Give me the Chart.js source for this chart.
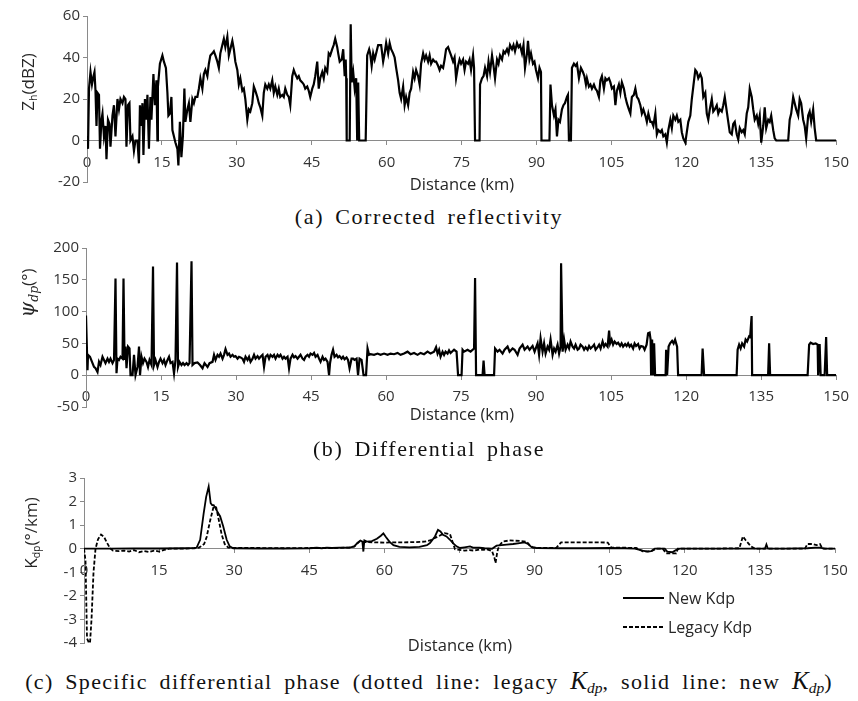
<!DOCTYPE html>
<html lang="en">
<head>
<meta charset="utf-8">
<title>Zh / Psi dp / Kdp</title>
<script src="https://cdn.jsdelivr.net/npm/chart.js@4.4.1/dist/chart.umd.min.js"></script>
<style>
    body { margin: 0; width: 858px; height: 701px; position: relative; overflow: hidden; background: #fff; font-family: 'Open Sans', sans-serif; color: #262626; }
    canvas { position: absolute; left: 0; }
    .titreAxeY { position: absolute; transform: translate(-50%, -50%) rotate(-90deg); white-space: nowrap; font-size: 17px; line-height: 1; }
    .titreAxeX { position: absolute; transform: translate(-50%, -50%); white-space: nowrap; font-size: 16.5px; line-height: 1; }
    sub { font-size: 0.62em; vertical-align: -0.3em; line-height: 0; }
    .grec { font-family: 'DejaVu Serif', serif; font-style: italic; font-size: 20px; }
    .legende { position: absolute; left: 623px; transform: translateY(-50%); display: flex; align-items: center; font-size: 16px; line-height: 1; white-space: nowrap; }
    .trait { display: inline-block; width: 41px; height: 2px; background: #000; margin-right: 4px; }
    .trait.pointille { background: repeating-linear-gradient(90deg, #000 0 4px, transparent 4px 6px); }
    .caption { position: absolute; left: 0; width: 858px; text-align: center; transform: translateY(-50%); font-family: 'Liberation Serif', serif; font-size: 22px; letter-spacing: 1.6px; word-spacing: 4px; line-height: 1; color: #111; white-space: nowrap; }
    .math { font-style: italic; font-size: 25px; letter-spacing: 0; }
</style>
</head>
<body>

<canvas id="graphZh" width="858" height="200" style="top:0px"></canvas>
<canvas id="graphPsi" width="858" height="195" style="top:230px"></canvas>
<canvas id="graphKdp" width="858" height="200" style="top:460px"></canvas>

<div class="titreAxeY" style="left:27px; top:82px">Z<sub>h</sub>(dBZ)</div>
<div class="titreAxeX" style="left:462px; top:184px">Distance (km)</div>
<div class="caption" style="top:217px">(a) Corrected reflectivity</div>

<div class="titreAxeY" style="left:27px; top:293px"><span class="grec">ψ<sub>dp</sub></span>(°)</div>
<div class="titreAxeX" style="left:462px; top:414px">Distance (km)</div>
<div class="caption" style="top:449px">(b) Differential phase</div>

<div class="titreAxeY" style="left:30px; top:533px">K<sub>dp</sub>(°/km)</div>
<div class="titreAxeX" style="left:460px; top:645px">Distance (km)</div>
<div class="legende" style="top:598px"><span class="trait"></span>New Kdp</div>
<div class="legende" style="top:627px"><span class="trait pointille"></span>Legacy Kdp</div>
<div class="caption" style="top:680px; letter-spacing:1.3px; word-spacing:5px">(c) Specific differential phase (dotted line: legacy <span class="math">K<sub>dp</sub></span>, solid line: new <span class="math">K<sub>dp</sub></span>)</div>

<script>
//! Les constantes.

const graduationsX = [0, 15, 30, 45, 60, 75, 90, 105, 120, 135, 150];
const graduationsZh = [-20, 0, 20, 40, 60];
const graduationsPsi = [-50, 0, 50, 100, 150, 200];
const graduationsKdp = [-4, -3, -2, -1, 0, 1, 2, 3];

const couleurAxe = '#8a8a8a';
const couleurTexte = '#333333';

//! --------------------------------------------------

//! Les données.

//? (a) Réflectivité corrigée Zh (dBZ).

const distanceZh = [
    0, 0.2, 0.4, 0.7, 1.0, 1.3, 1.5, 1.7, 1.9, 2.1, 2.4, 2.6, 2.9, 3.1, 3.4, 3.7, 3.9, 4.2, 4.5, 4.7,
    5.1, 5.4, 5.7, 6.1, 6.4, 6.7, 7.1, 7.4, 7.7, 7.9, 8.2, 8.5, 8.7, 9.1, 9.4, 9.7, 10.1, 10.4, 10.6, 10.9,
    11.1, 11.3, 11.6, 11.9, 12.1, 12.4, 12.7, 12.9, 13.3, 13.6, 13.9, 14.1, 14.2, 14.6, 15.1, 15.4, 15.8, 16.1, 16.3, 16.6,
    16.9, 17.1, 17.4, 17.7, 18.1, 18.3, 18.6, 18.9, 19.2, 19.5, 19.7, 20.1, 20.4, 20.7, 21.1, 21.4, 21.7, 22.1, 22.4, 22.7,
    23.1, 23.4, 23.7, 24.1, 24.4, 24.7, 25.1, 25.4, 25.7, 26.1, 26.4, 26.7, 27.1, 27.4, 27.7, 28.1, 28.4, 28.7, 29.1, 29.4,
    29.7, 30.1, 30.4, 30.7, 31.1, 31.4, 31.7, 32.1, 32.4, 32.7, 33.1, 33.4, 33.7, 34.1, 34.4, 34.7, 35.1, 35.4, 35.7, 36.1,
    36.4, 36.7, 37.1, 37.4, 37.7, 38.1, 38.4, 38.7, 39.1, 39.4, 39.7, 40.1, 40.4, 40.7, 41.1, 41.4, 41.7, 42.1, 42.4, 42.7,
    43.1, 43.4, 43.7, 44.1, 44.4, 44.7, 45.1, 45.4, 45.7, 46.1, 46.4, 46.7, 47.1, 47.4, 47.7, 48.1, 48.4, 48.7, 49.1, 49.4,
    49.7, 50.1, 50.3, 50.6, 51.0, 51.3, 51.6, 51.8, 51.9, 52.0, 52.6, 52.8, 53.0, 53.3, 53.6, 53.9, 54.1, 54.3, 54.5, 55.8,
    56.1, 56.5, 56.7, 57.0, 57.3, 57.6, 57.9, 58.3, 58.6, 58.9, 59.3, 59.6, 59.9, 60.3, 60.6, 60.9, 61.3, 61.6, 61.9, 62.3,
    62.6, 62.9, 63.3, 63.6, 63.9, 64.3, 64.6, 64.9, 65.3, 65.6, 65.9, 66.3, 66.6, 66.9, 67.3, 67.6, 67.9, 68.3, 68.6, 68.9,
    69.3, 69.6, 69.9, 70.3, 70.6, 70.9, 71.3, 71.6, 71.9, 72.3, 72.6, 72.9, 73.3, 73.6, 73.9, 74.3, 74.6, 74.9, 75.3, 75.6,
    75.9, 76.3, 76.6, 76.9, 77.3, 77.5, 77.7, 78.6, 78.7, 79.1, 79.4, 79.7, 80.1, 80.4, 80.7, 81.1, 81.4, 81.7, 82.1, 82.4,
    82.7, 83.1, 83.4, 83.7, 84.1, 84.4, 84.7, 85.1, 85.4, 85.7, 86.1, 86.4, 86.7, 87.1, 87.4, 87.7, 88.1, 88.3, 88.6, 88.9,
    89.3, 89.6, 89.9, 90.3, 90.6, 90.9, 91.0, 92.6, 92.8, 93.1, 93.5, 93.8, 94.1, 94.4, 94.7, 95.1, 95.4, 95.7, 96.1, 96.3,
    96.5, 96.9, 97.1, 97.5, 97.8, 98.1, 98.5, 98.9, 99.3, 99.6, 99.9, 100.1, 100.5, 100.8, 101.1, 101.5, 101.8, 102.1, 102.5, 102.8,
    103.1, 103.5, 103.8, 104.1, 104.5, 104.8, 105.1, 105.5, 105.8, 106.1, 106.5, 106.8, 107.1, 107.5, 107.8, 108.1, 108.5, 108.8, 109.1, 109.5,
    109.8, 110.1, 110.4, 110.8, 111.1, 111.4, 111.8, 112.1, 112.4, 112.8, 113.1, 113.4, 113.8, 114.1, 114.4, 114.8, 115.1, 115.4, 115.8, 116.1,
    116.4, 116.8, 117.1, 117.4, 117.8, 118.1, 118.4, 118.8, 119.1, 119.4, 119.8, 120.1, 120.4, 120.8, 121.1, 121.4, 121.8, 122.1, 122.4, 122.8,
    123.1, 123.4, 123.8, 124.1, 124.4, 124.7, 125.1, 125.4, 125.7, 126.1, 126.4, 126.7, 127.1, 127.4, 127.7, 128.1, 128.4, 128.7, 129.1, 129.4,
    129.7, 130.1, 130.4, 130.7, 131.1, 131.4, 131.7, 132.1, 132.4, 132.7, 133.1, 133.4, 133.7, 134.1, 134.4, 134.7, 135.0, 135.4, 135.7, 136.0,
    136.4, 136.7, 137.0, 137.4, 137.7, 138.0, 140.4, 140.7, 141.0, 141.4, 141.7, 142.0, 142.4, 142.7, 143.0, 143.4, 143.7, 144.0, 144.4, 144.7,
    145.0, 145.4, 145.7, 146.0, 150
];

const valeurZh = [
    2, -4, 25, 33, 27, 31, 33, 24, 7, 23, 22, -4, 10, 13, 2, 7, -9, 10, 8, -3,
    12, 17, 2, 20, 15, 20, 18, 21, 20, -3, 17, 18, 0, 2, -5, 0, 0, -11, 17, 7,
    18, -7, 20, 10, 22, -4, 21, 10, 32, 17, 29, 0, 26, 37, 41, 38, 35, 23, 12, 13,
    21, 5, 2, -1, -4, -12, 9, -8, 2, 25, 9, 15, 18, 9, 20, 18, 21, 21, 25, 30,
    25, 32, 34, 31, 37, 41, 42, 43, 41, 38, 35, 42, 46, 49, 45, 50, 41, 44, 48, 44,
    38, 34, 27, 30, 24, 25, 20, 10, 15, 14, 18, 26, 24, 21, 18, 16, 12, 23, 27, 25,
    27, 25, 29, 23, 26, 22, 25, 21, 22, 21, 25, 22, 21, 17, 31, 34, 32, 30, 31, 29,
    28, 27, 25, 26, 24, 21, 25, 27, 31, 38, 25, 30, 33, 30, 35, 33, 42, 41, 44, 46,
    49, 45, 42, 38, 39, 44, 31, 39, 30, 0, 0, 56, 28, 33, 25, 30, 0, 28, 0, 0,
    41, 44, 42, 36, 42, 39, 42, 46, 46, 46, 38, 42, 47, 42, 47, 44, 42, 40, 35, 29,
    23, 20, 26, 17, 21, 17, 23, 25, 33, 30, 34, 31, 27, 37, 42, 39, 41, 38, 41, 37,
    39, 38, 38, 36, 34, 36, 35, 39, 44, 45, 43, 41, 38, 40, 30, 36, 39, 37, 39, 34,
    38, 37, 39, 34, 41, 35, 0, 0, 27, 30, 31, 35, 31, 38, 33, 41, 36, 30, 39, 37,
    41, 39, 43, 42, 44, 42, 46, 44, 46, 43, 47, 45, 46, 42, 46, 35, 42, 48, 39, 42,
    37, 38, 34, 30, 35, 33, 0, 0, 27, 17, 12, 15, 2, 10, 9, 15, 17, 18, 21, 22,
    0, 0, 35, 37, 36, 37, 30, 35, 33, 31, 27, 30, 26, 27, 25, 27, 25, 24, 21, 29,
    31, 25, 30, 29, 30, 28, 25, 26, 17, 24, 27, 23, 28, 25, 21, 18, 15, 13, 21, 22,
    25, 21, 20, 17, 13, 15, 12, 9, 13, 9, 9, 7, 13, 3, 5, 4, 5, 2, 3, -1,
    5, 10, 6, 12, 10, 12, 9, 10, 4, 1, -1, 4, 9, 12, 20, 26, 34, 33, 30, 32,
    30, 21, 23, 13, 10, 15, 20, 14, 15, 17, 13, 15, 14, 17, 21, 14, 9, 4, 3, 8,
    9, 3, 0.5, 6, 4, 5, 3, 13, 16, 25, 21, 15, 10, 12, 8, 12, -1, 7, 16, 6,
    10, 9, 12, 5, 1, 0, 0, 10, 13, 21, 18, 15, 12, 20, 18, 10, 7, 1, 12, 14,
    9, 15, 6, 0, 0
];

//? (b) Phase différentielle Psi dp (°).

const distancePsi = [
    0, 0.3, 0.4, 0.8, 1.3, 1.6, 1.9, 2.3, 2.6, 2.9, 3.3, 3.6, 3.9, 4.3, 4.6, 4.9, 5.3, 5.6, 5.9, 6.1,
    6.3, 6.6, 6.9, 7.3, 7.5, 7.7, 7.9, 8.1, 8.4, 8.7, 8.9, 9.3, 9.6, 9.9, 10.3, 10.6, 10.8, 11.1, 11.4, 11.7,
    12.1, 12.4, 12.7, 13.1, 13.4, 13.6, 13.9, 14.3, 14.6, 14.9, 15.3, 15.6, 15.9, 16.3, 16.6, 16.9, 17.3, 17.6, 17.9, 18.2,
    18.4, 18.7, 19.1, 19.4, 19.7, 20.1, 20.4, 20.7, 21.1, 21.3, 21.7, 22.3, 22.8, 23.3, 23.7, 24.3, 24.7, 25.3, 25.6, 25.9,
    26.3, 26.6, 26.9, 27.3, 27.6, 27.9, 28.3, 28.6, 28.9, 29.3, 29.6, 29.9, 30.3, 30.6, 30.9, 31.3, 31.6, 31.9, 32.3, 32.6,
    32.9, 33.3, 33.6, 33.9, 34.3, 34.6, 34.9, 35.3, 35.6, 35.9, 36.3, 36.6, 36.9, 37.3, 37.6, 37.9, 38.3, 38.6, 38.9, 39.3,
    39.6, 39.9, 40.3, 40.6, 40.9, 41.3, 41.6, 41.9, 42.3, 42.6, 42.9, 43.3, 43.6, 43.9, 44.3, 44.6, 44.9, 45.3, 45.6, 45.9,
    46.3, 46.6, 46.9, 47.3, 47.6, 47.9, 48.3, 48.6, 48.8, 49.1, 49.4, 49.7, 50.1, 50.4, 50.7, 51.1, 51.4, 51.7, 52.1, 52.4,
    52.7, 53.1, 53.4, 53.7, 54.1, 54.4, 54.7, 55.1, 55.5, 56.0, 56.3, 56.6, 56.9, 57.6, 58.3, 58.9, 59.6, 60.3, 60.9, 61.6,
    62.3, 62.9, 63.6, 64.3, 64.9, 65.6, 66.3, 66.9, 67.6, 68.3, 68.9, 69.6, 70.0, 70.3, 70.6, 70.9, 71.3, 71.6, 71.9, 72.3,
    72.6, 72.9, 73.6, 74.1, 74.4, 75.1, 75.3, 75.6, 76.3, 76.9, 77.6, 77.8, 78.0, 79.3, 79.5, 79.7, 81.6, 81.8, 82.3, 82.7,
    83.3, 83.7, 84.3, 84.7, 85.3, 85.7, 86.3, 86.7, 87.3, 87.7, 88.3, 88.7, 89.3, 89.7, 90.3, 90.6, 90.9, 91.3, 91.6, 91.9,
    92.3, 92.6, 92.9, 93.3, 93.6, 93.9, 94.3, 94.6, 94.9, 95.0, 95.3, 95.6, 95.9, 96.3, 96.6, 96.9, 97.3, 97.6, 97.9, 98.3,
    98.6, 98.9, 99.3, 99.6, 99.9, 100.3, 100.6, 100.9, 101.3, 101.6, 101.9, 102.3, 102.6, 102.9, 103.3, 103.6, 103.9, 104.3, 104.6, 104.8,
    105.1, 105.4, 105.7, 106.1, 106.4, 106.8, 107.1, 107.4, 107.8, 108.1, 108.4, 108.7, 109.0, 109.4, 109.7, 110.0, 110.4, 110.7, 111.0, 111.4,
    111.7, 112.1, 112.4, 112.7, 112.9, 113.0, 113.2, 113.4, 113.6, 113.8, 115.9, 116.0, 116.2, 116.5, 116.8, 117.2, 117.5, 117.8, 118.2, 118.4,
    123.1, 123.3, 123.6, 130.1, 130.3, 130.6, 130.9, 131.2, 131.6, 131.9, 132.2, 132.6, 132.8, 133.1, 133.2, 136.4, 136.6, 136.8, 144.3, 144.6,
    144.9, 145.4, 145.9, 146.3, 146.4, 146.7, 146.9, 147.7, 148.0, 148.2, 150
];

const valeurPsi = [
    94, 8, 32, 29, 19, 13, 11, 5, 21, 16, 29, 24, 19, 26, 21, 26, 19, 24, 152, 3,
    26, 24, 29, 26, 152, 24, 45, 11, 45, 42, 0, 0, 32, 0, 13, 45, 0, 29, 19, 26,
    21, 13, 24, 16, 171, 16, 24, 13, 21, 26, 19, 24, 16, 24, 29, 19, 21, 3, 24, 177,
    13, 21, 16, 19, 16, 19, 16, 19, 179, 16, 19, 20, 16, 11, 19, 13, 19, 21, 32, 24,
    32, 29, 34, 26, 32, 41, 32, 34, 29, 32, 29, 30, 26, 29, 28, 26, 21, 29, 24, 29,
    21, 26, 32, 26, 30, 26, 29, 32, 13, 29, 32, 26, 32, 29, 32, 26, 32, 29, 32, 26,
    29, 26, 29, 11, 26, 32, 28, 30, 26, 29, 32, 26, 24, 29, 32, 29, 34, 32, 35, 29,
    32, 26, 21, 29, 24, 26, 21, 0, 19, 32, 40, 29, 32, 28, 30, 26, 29, 25, 28, 24,
    11, 26, 26, 24, 26, 0, 26, 24, 0, 0, 42, 32, 33, 32, 34, 32, 34, 32, 34, 33,
    35, 32, 34, 37, 33, 35, 32, 35, 33, 37, 34, 37, 44, 34, 40, 29, 37, 32, 37, 34,
    39, 35, 40, 37, 0, 0, 40, 37, 40, 37, 42, 153, 0, 0, 23, 0, 0, 42, 37, 40,
    34, 40, 45, 37, 42, 40, 32, 42, 48, 40, 45, 40, 46, 37, 50, 32, 58, 37, 50, 34,
    45, 40, 56, 32, 42, 37, 48, 34, 45, 176, 37, 56, 40, 48, 42, 53, 45, 42, 48, 40,
    42, 48, 45, 40, 44, 40, 46, 42, 45, 48, 40, 44, 48, 42, 53, 45, 49, 45, 70, 50,
    56, 48, 53, 49, 51, 46, 50, 45, 49, 46, 50, 45, 48, 42, 50, 46, 49, 42, 46, 45,
    40, 48, 66, 67, 56, 0, 56, 0, 50, 0, 0, 40, 0, 45, 50, 54, 50, 56, 45, 0,
    0, 42, 0, 0, 40, 48, 42, 50, 45, 56, 53, 61, 60, 93, 0, 0, 50, 0, 0, 48,
    51, 49, 50, 48, 0, 49, 0, 0, 60, 0, 0
];

//? (c) Phase différentielle spécifique Kdp (°/km).

const distanceKdpNew = [
    0, 5, 10, 15, 20, 22, 22.5, 23.2, 23.9, 24.4, 24.9, 25.3, 25.6, 25.9, 26.3, 26.7, 27.2, 27.8, 28.5, 29.1,
    29.8, 35, 40, 45, 46.5, 47.5, 48.5, 49.5, 51, 53, 54, 54.6, 55.2, 55.6, 55.8, 56.0, 56.5, 57.5, 58.5, 59.3,
    59.8, 60.3, 61, 61.8, 63, 65, 67, 68.5, 69.1, 70.1, 70.7, 71.2, 71.7, 72.4, 73.1, 73.7, 74.4, 75.1, 76, 77.1,
    77.7, 79, 80, 81.5, 82.4, 84.4, 85.7, 87.0, 88.0, 88.7, 89.4, 90.4, 95, 100, 105, 108, 110, 111.6, 112.5, 113.3,
    114, 116, 116.5, 117.5, 118.3, 119, 125, 130, 135, 136, 136.3, 136.6, 140, 144.5, 146, 147, 148, 150
];

const valeurKdpNew = [
    0, 0, 0.01, 0.01, 0.02, 0.03, 0.05, 0.38, 1.5, 2.2, 2.64, 1.93, 1.85, 1.85, 1.7, 1.55, 1.37, 0.95, 0.38, 0.1,
    0.02, 0.01, 0.01, 0.02, 0.04, 0.02, 0.05, 0.03, 0.05, 0.05, 0.1, 0.25, 0.35, 0.3, -0.12, 0.35, 0.3, 0.32, 0.42, 0.55,
    0.65, 0.5, 0.3, 0.15, 0.08, 0.06, 0.08, 0.15, 0.24, 0.52, 0.8, 0.73, 0.59, 0.52, 0.38, 0.24, 0.1, 0.03, 0.06, 0.1,
    0.05, 0.04, 0.02, 0, 0.13, 0.17, 0.2, 0.24, 0.27, 0.2, 0.07, 0.03, 0.02, 0.02, 0.03, 0.02, 0, -0.08, -0.12, -0.1,
    0, 0, -0.12, -0.15, -0.05, 0, 0, 0, 0, 0, 0.18, 0, 0, 0.02, 0.05, 0.05, 0, 0
];

const distanceKdpLegacy = [
    0, 0.3, 0.6, 0.9, 1.2, 1.5, 1.9, 2.3, 2.8, 3.4, 4.0, 4.6, 5.2, 5.8, 7, 8, 9, 10, 11, 12,
    13, 14, 15, 16, 17, 20, 22, 23, 24, 24.5, 25.2, 25.9, 26.4, 26.8, 27.5, 28.1, 28.8, 30, 35, 40,
    45, 50, 53, 54, 55, 56, 58, 60, 62, 64, 66, 68, 69.1, 70, 71, 72, 73.1, 74.1, 75, 76,
    77, 78, 79, 79.7, 80.5, 81.5, 82.0, 82.2, 82.5, 82.7, 83.2, 83.7, 85, 86, 87, 88.4, 89.0, 89.7, 91, 92,
    94.3, 95.3, 97, 99, 101, 103, 104.6, 105.3, 107, 110.3, 111.6, 113.3, 114.3, 115.6, 116.3, 118.3, 118.6, 125, 130.9, 131.6,
    132.2, 133.2, 134, 140, 144, 144.5, 145.5, 146.3, 147, 147.5, 150
];

const valeurKdpLegacy = [
    0, -0.5, -3.8, -3.95, -4.0, -3.0, -1.0, 0, 0.4, 0.6, 0.5, 0.25, 0.02, -0.08, -0.1, -0.08, -0.12, -0.06, -0.15, -0.1,
    -0.14, -0.08, -0.12, -0.05, 0, 0, 0.02, 0.05, 0.2, 0.5, 1.2, 1.8, 1.75, 1.35, 0.6, 0.2, 0.05, 0.03, 0.03, 0.02,
    0.03, 0.03, 0.05, 0.1, 0.3, 0.28, 0.27, 0.26, 0.27, 0.27, 0.28, 0.3, 0.35, 0.45, 0.55, 0.66, 0.62, -0.02, -0.05, -0.08,
    -0.06, -0.08, -0.03, -0.05, -0.03, -0.1, -0.4, -0.61, -0.2, 0, 0.2, 0.31, 0.35, 0.34, 0.33, 0.3, 0.15, 0.05, 0.03, 0.03,
    0.03, 0.27, 0.27, 0.27, 0.27, 0.27, 0.26, 0.05, 0.05, 0.03, -0.11, -0.11, 0, 0, -0.2, -0.2, 0, 0, 0.02, 0.52,
    0.35, 0.1, 0, 0, 0, 0.2, 0.2, 0.15, 0.2, 0, 0
];

//! --------------------------------------------------

//? Construction des points {x, y}.

const versPoints = (distances, valeurs) => {
    if (distances.length !== valeurs.length) {
        console.log('🔴 ERREUR ==> longueurs différentes :', distances.length, valeurs.length);
    }
    return distances.map((d, i) => ({ x: d, y: valeurs[i] }));
};

//? Options communes aux trois graphiques.

const policeGraduation = { family: "'Open Sans', sans-serif", size: 15 };

const optionsGraphique = (yMin, yMax, graduationsY, largeurAxeY, padding) => ({
    responsive: false,
    animation: false,
    devicePixelRatio: 1,
    layout: { padding },
    plugins: {
        legend: { display: false },
        tooltip: { enabled: false },
    },
    elements: {
        point: { radius: 0 },
        line: { tension: 0 },
    },
    scales: {
        x: {
            type: 'linear',
            min: 0,
            max: 150,
            position: { y: 0 },
            afterBuildTicks: (axe) => {
                axe.ticks = graduationsX.map((v) => ({ value: v }));
            },
            grid: { drawOnChartArea: false, drawTicks: true, tickLength: 4, color: couleurAxe },
            border: { color: couleurAxe, width: 1 },
            ticks: { color: couleurTexte, font: policeGraduation, padding: 9, maxRotation: 0, autoSkip: false },
        },
        y: {
            type: 'linear',
            min: yMin,
            max: yMax,
            afterBuildTicks: (axe) => {
                axe.ticks = graduationsY.map((v) => ({ value: v }));
            },
            afterFit: (axe) => {
                axe.width = largeurAxeY;
            },
            grid: { drawOnChartArea: false, drawTicks: true, tickLength: 4, color: couleurAxe },
            border: { color: couleurAxe, width: 1 },
            ticks: { color: couleurTexte, font: policeGraduation, padding: 3 },
        },
    },
});

//? Les trois graphiques.

const construireGraphiques = () => {
    try {

        new Chart(document.getElementById('graphZh').getContext('2d'), {
            type: 'line',
            data: {
                datasets: [{
                    label: 'Zh',
                    data: versPoints(distanceZh, valeurZh),
                    borderColor: '#000',
                    borderWidth: 2.2,
                }],
            },
            options: optionsGraphique(-20, 60, graduationsZh, 87, { top: 16, bottom: 18, left: 0, right: 19 }),
        });

        new Chart(document.getElementById('graphPsi').getContext('2d'), {
            type: 'line',
            data: {
                datasets: [{
                    label: 'Psi dp',
                    data: versPoints(distancePsi, valeurPsi),
                    borderColor: '#000',
                    borderWidth: 2.2,
                }],
            },
            options: optionsGraphique(-50, 200, graduationsPsi, 86, { top: 18, bottom: 18, left: 0, right: 20 }),
        });

        new Chart(document.getElementById('graphKdp').getContext('2d'), {
            type: 'line',
            data: {
                datasets: [
                    {
                        label: 'New Kdp',
                        data: versPoints(distanceKdpNew, valeurKdpNew),
                        borderColor: '#000',
                        borderWidth: 1.8,
                    },
                    {
                        label: 'Legacy Kdp',
                        data: versPoints(distanceKdpLegacy, valeurKdpLegacy),
                        borderColor: '#000',
                        borderWidth: 1.8,
                        borderDash: [4, 2],
                    },
                ],
            },
            options: optionsGraphique(-4, 3, graduationsKdp, 84, { top: 18, bottom: 17, left: 0, right: 23 }),
        });

        console.log('🟢 SUCCESS ==> Construction graphiques');

    } catch (error) {
        console.log('🔴 ERREUR ==> Construction graphiques :', error);
    }
};

construireGraphiques();
</script>
</body>
</html>
